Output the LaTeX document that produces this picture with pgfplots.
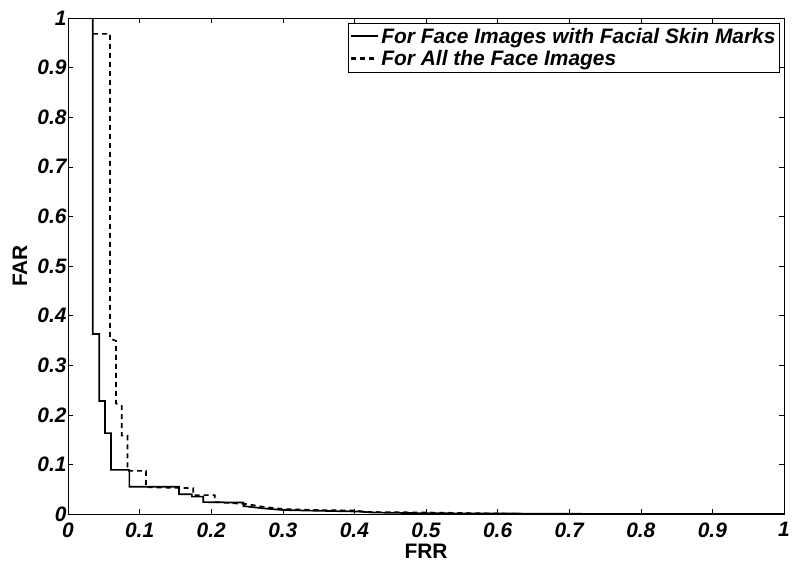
\documentclass[border=0pt]{standalone}
\usepackage{fontspec}
\setmainfont{Liberation Sans}
\usepackage{pgfplots}
\pgfplotsset{compat=1.18}
\usetikzlibrary{calc}

\begin{document}
\begin{tikzpicture}
\begin{axis}[
    scale only axis,
    width=716bp, height=496bp,
    xmin=0, xmax=1, ymin=0, ymax=1,
    xtick={0,0.1,...,1.01}, ytick={0,0.1,...,1.01},
    tick align=inside, major tick length=5bp,
    tick style={black, line width=0.5pt},
    axis line style={line width=0.8pt},
    /pgf/number format/assume math mode=true,
    /pgf/number format/fixed,
    tick label style={font=\fontsize{21}{21}\selectfont\bfseries\itshape},
    xticklabel style={yshift=-5bp},
    yticklabel style={xshift=2bp},
    xlabel={FRR}, ylabel={FAR},
    label style={font=\fontsize{21}{21}\selectfont\bfseries},
    xlabel style={at={($(rel axis cs:0.5,0)+(0,-37bp)$)}, anchor=center},
    ylabel style={at={($(rel axis cs:0,0.5)+(-48bp,0)$)}, anchor=center},
    legend cell align=left,
    legend style={at={(0.994,0.99)}, anchor=north east, draw=black,
      fill=white, inner ysep=3bp, inner xsep=2bp,
      font=\fontsize{21}{26}\selectfont\bfseries\itshape,
      row sep=2bp},
    legend image code/.code={\draw[#1, line width=2.2pt] (0bp,0.6bp) -- (27bp,0.6bp);},
  ]
  \coordinate (ll) at (rel axis cs:0,0);
  \coordinate (ur) at (rel axis cs:1,1);
  \addplot[black, line width=1.7pt] coordinates {
    (0.0345,1.0) (0.0345,0.363) (0.0437,0.363) (0.0437,0.228)
    (0.0517,0.228) (0.0517,0.163) (0.060,0.163) (0.060,0.089)
    (0.0857,0.089) (0.0857,0.055) (0.155,0.055) (0.155,0.040)
    (0.173,0.040) (0.173,0.035) (0.189,0.035) (0.189,0.024)
    (0.245,0.023) (0.245,0.016) (0.272,0.0115) (0.30,0.008)
    (0.35,0.0065) (0.404,0.005) (0.426,0.003) (0.50,0.0015)
    (0.60,0.001) (0.72,0.0003) (0.80,0.0) (1.0,0.0)
  };
  \addlegendentry{For Face Images with Facial Skin Marks}
  \addplot[black, line width=1.7pt, dash pattern=on 5bp off 4bp] coordinates {
    (0.035,0.968) (0.0587,0.968) (0.0587,0.354) (0.067,0.349)
    (0.067,0.223) (0.075,0.218) (0.075,0.158) (0.083,0.158)
    (0.083,0.087) (0.109,0.087) (0.109,0.054) (0.175,0.052)
    (0.175,0.038) (0.205,0.038) (0.205,0.024) (0.25,0.02)
    (0.27,0.015) (0.30,0.010) (0.35,0.008) (0.40,0.007)
    (0.42,0.004) (0.50,0.003) (0.55,0.002) (0.60,0.001)
    (0.65,0.0) (1.0,0.0)
  };
  \addlegendentry{For All the Face Images}
\end{axis}
\pgfresetboundingbox
\path[use as bounding box] ($(ll)+(-68bp,-49bp)$) rectangle ($(ur)+(8bp,18bp)$);
\end{tikzpicture}
\end{document}
